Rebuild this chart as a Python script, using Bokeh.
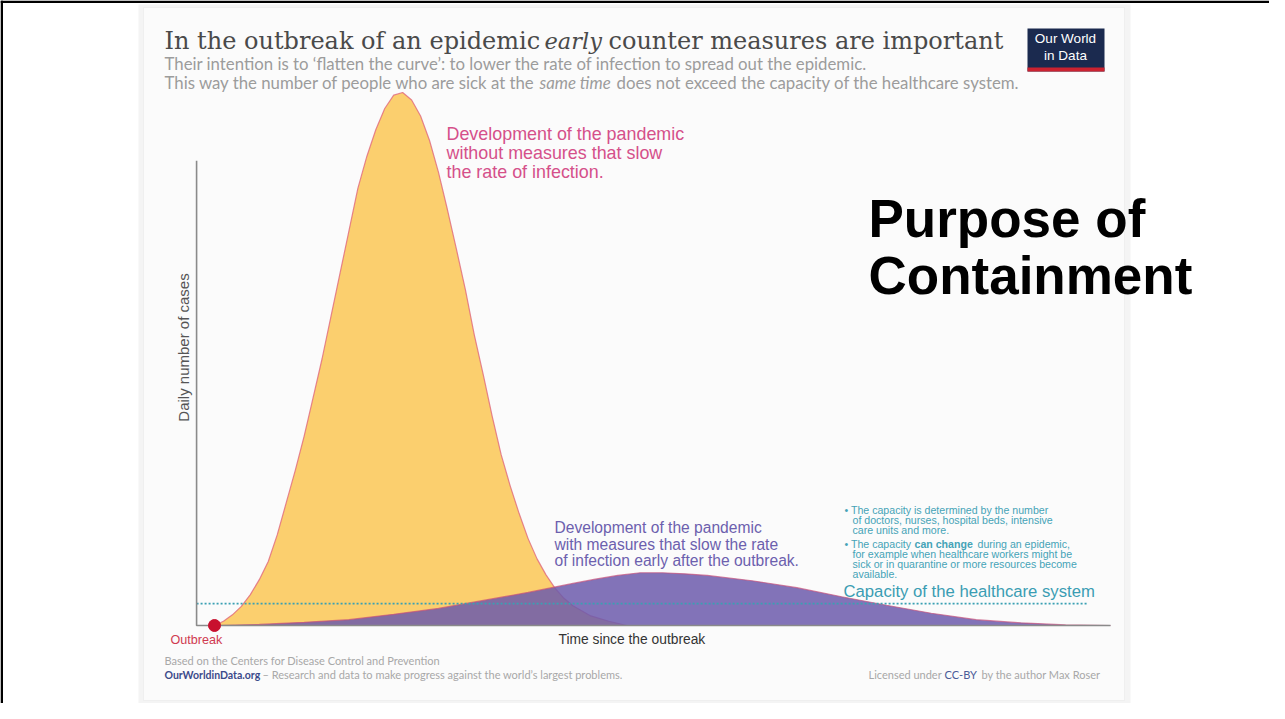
from bokeh.plotting import figure
from bokeh.models import ColumnDataSource, Range1d, Label, BoxAnnotation
from bokeh.embed import file_html
from bokeh.resources import INLINE
import math

# ---------------- data ----------------
time_no_measures = [0, 1, 2, 3, 4, 5, 6, 7, 8, 9, 10, 11, 12, 13, 14, 15, 16, 17, 18, 19, 20, 21, 22, 23,
                    24, 25, 26, 27, 28, 29, 30, 31, 32, 33, 34, 35, 36, 37, 38, 39, 40, 42, 44, 46]
cases_no_measures = [0, 0.8, 2, 3.6, 5.8, 8.6, 12, 17, 23, 29, 35.5, 42.7, 50, 58, 66, 74, 82, 88, 93, 97,
                     99.5, 100, 98.6, 95.6, 91, 85, 78, 70.6, 63, 54.5, 47, 39.2, 32, 26.2, 21, 16.3,
                     12.5, 9.5, 7, 5.1, 3.7, 1.8, 0.8, 0]

time_with_measures = [0, 5, 10, 15, 20, 25, 30, 35, 40, 42.5, 45, 47.5, 50, 52.5, 55, 60, 65, 70, 75,
                      80, 85, 90, 95, 100]
cases_with_measures = [0, 0.2, 0.6, 1.1, 2.1, 3.2, 4.7, 6.2, 7.9, 8.7, 9.4, 9.9, 9.9, 9.7, 9.4, 8.4,
                       7.1, 5.4, 3.8, 2.3, 1.1, 0.5, 0.1, 0]

capacity_time = [-2, 97.4]
capacity_level = [4.1, 4.1]

outbreak_time = [0]
outbreak_cases = [0]

axis_time = [-2, -2, 100]
axis_cases = [87.2, 0, 0]

# ---------------- layout helpers (page pixels -> data) ----------------
W, H = 1269, 703
def X(px):
    return (px - 222) / 8.96
def Y(py):
    return (633 - py) / 5.33

p = figure(width=W, height=H, x_range=Range1d(X(8), X(8 + W)), y_range=Range1d(Y(8 + H), Y(8)),
           output_backend="svg", toolbar_location=None, x_axis_type=None, y_axis_type=None,
           min_border=0, min_border_left=0, min_border_right=0, min_border_top=0, min_border_bottom=0)
p.outline_line_color = None
p.background_fill_color = "white"
p.border_fill_color = "white"
p.grid.visible = False

# card + shadow
p.add_layout(BoxAnnotation(left=X(146), right=X(1138), top=Y(12), bottom=Y(713),
                           fill_color="#f4f4f4", fill_alpha=1, line_color=None, level="underlay"))
p.add_layout(BoxAnnotation(left=X(151), right=X(1132), top=Y(15), bottom=Y(708),
                           fill_color="#fbfbfb", fill_alpha=1, line_color="#dadada", line_width=1,
                           level="underlay"))

# black slide frame (top and left)
p.add_layout(BoxAnnotation(left=X(8), right=X(8 + W), top=Y(8), bottom=Y(10.5),
                           fill_color="black", fill_alpha=1, line_color=None))
p.add_layout(BoxAnnotation(left=X(8), right=X(10.5), top=Y(8), bottom=Y(8 + H),
                           fill_color="black", fill_alpha=1, line_color=None))

# curves
src_y = ColumnDataSource(dict(t=time_no_measures, c=cases_no_measures))
src_p = ColumnDataSource(dict(t=time_with_measures, c=cases_with_measures))
p.varea(x="t", y1=0, y2="c", source=src_y, fill_color="#fbcf6e", fill_alpha=1)
p.line(x="t", y="c", source=src_y, line_color="#e0687c", line_width=1.2, line_alpha=0.8)
p.varea(x="t", y1=0, y2="c", source=src_p, fill_color="#6c5bab", fill_alpha=0.85)
p.line(x="t", y="c", source=src_p, line_color="#c4507a", line_width=1.2, line_alpha=0.7)

# capacity line
p.line(x=capacity_time, y=capacity_level, line_color="#3aa0b3", line_width=1.6, line_dash="2 2")

# axes lines
p.line(x=axis_time, y=axis_cases, line_color="#8a8a8a", line_width=1.6)

# outbreak dot
p.scatter(x=outbreak_time, y=outbreak_cases, size=12, fill_color="#c8102e", line_color="#c8102e")

def lab(px, py, text, size, color, font="Liberation Sans", style="normal", align="left",
        baseline="middle", angle=0.0):
    p.add_layout(Label(x=X(px), y=Y(py), text=text, text_font=font, text_font_size=f"{size}px",
                       text_color=color, text_font_style=style, text_align=align,
                       text_baseline=baseline, angle=angle))

# title
TF = "DejaVu Serif"
TC = "#4a4a4a"
lab(172, 48, "In the outbreak of an epidemic", 24, TC, TF)
lab(552, 48, "early", 22.5, TC, TF, style="italic")
lab(616, 48, "counter measures are important", 24, TC, TF)
# subtitle
SF = "Lato"
SC = "#9c9c9c"
SS = 16.8
lab(172, 71, "Their intention is to \u2018flatten the curve\u2019: to lower the rate of infection to spread out the epidemic.",
    SS, SC, SF)
lab(172, 90, "This way the number of people who are sick at the", SS, SC, SF)
lab(547, 90, "same time", SS, SC, SF, style="italic")
lab(624, 90, "does not exceed the capacity of the healthcare system.", SS, SC, SF)

# logo
p.add_layout(BoxAnnotation(left=X(1035), right=X(1112), top=Y(36), bottom=Y(79),
                           fill_color="#1b2a4f", fill_alpha=1, line_color=None))
p.add_layout(BoxAnnotation(left=X(1035), right=X(1112), top=Y(75), bottom=Y(79),
                           fill_color="#cc2230", fill_alpha=1, line_color=None))
lab(1073, 46, "Our World", 13.5, "white", align="center")
lab(1073, 63, "in Data", 13.5, "white", align="center")

# curve annotations
PK = "#d5508a"
lab(454, 141, "Development of the pandemic", 17.9, PK)
lab(454, 160, "without measures that slow", 17.9, PK)
lab(454, 179, "the rate of infection.", 17.9, PK)

PU = "#6c60ae"
lab(562, 535, "Development of the pandemic", 15.6, PU)
lab(562, 552, "with measures that slow the rate", 15.6, PU)
lab(562, 568, "of infection early after the outbreak.", 15.6, PU)

TL = "#45a3b7"
BS = 10.6
lab(852, 517, "\u2022 The capacity is determined by the number", BS, TL)
lab(860, 527, "of doctors, nurses, hospital beds, intensive", BS, TL)
lab(860, 537, "care units and more.", BS, TL)
lab(852, 551, "\u2022 The capacity", BS, TL)
lab(922, 551, "can change", BS, TL, style="bold")
lab(985, 551, "during an epidemic,", BS, TL)
lab(860, 561, "for example when healthcare workers might be", BS, TL)
lab(860, 571, "sick or in quarantine or more resources become", BS, TL)
lab(860, 581, "available.", BS, TL)
lab(851, 599, "Capacity of the healthcare system", 16.7, "#3a9db3")

# axis texts
lab(178, 647, "Outbreak", 12.6, "#d03a50")
lab(566, 647, "Time since the outbreak", 13.8, "#333333")
lab(191, 355, "Daily number of cases", 15, "#555555", align="center", angle=math.pi / 2)

# footer
FC = "#a8a8a8"
FS = 11
lab(172, 668, "Based on the Centers for Disease Control and Prevention", FS, FC, SF)
lab(172, 682, "OurWorldinData.org", 10.5, "#3b4a8a", SF, style="bold")
lab(270, 682, "\u2013 Research and data to make progress against the world\u2019s largest problems.", FS, FC, SF)
lab(876, 682, "Licensed under", FS, FC, SF)
lab(952, 682, "CC-BY", FS, "#4a5a98", SF)
lab(1108, 682, "by the author Max Roser", FS, FC, SF, align="right")

# overlay slide text
lab(876, 226, "Purpose of", 53, "black", style="bold")
lab(876, 283, "Containment", 53, "black", style="bold")

open("out.html", "w").write(file_html(p, INLINE))
